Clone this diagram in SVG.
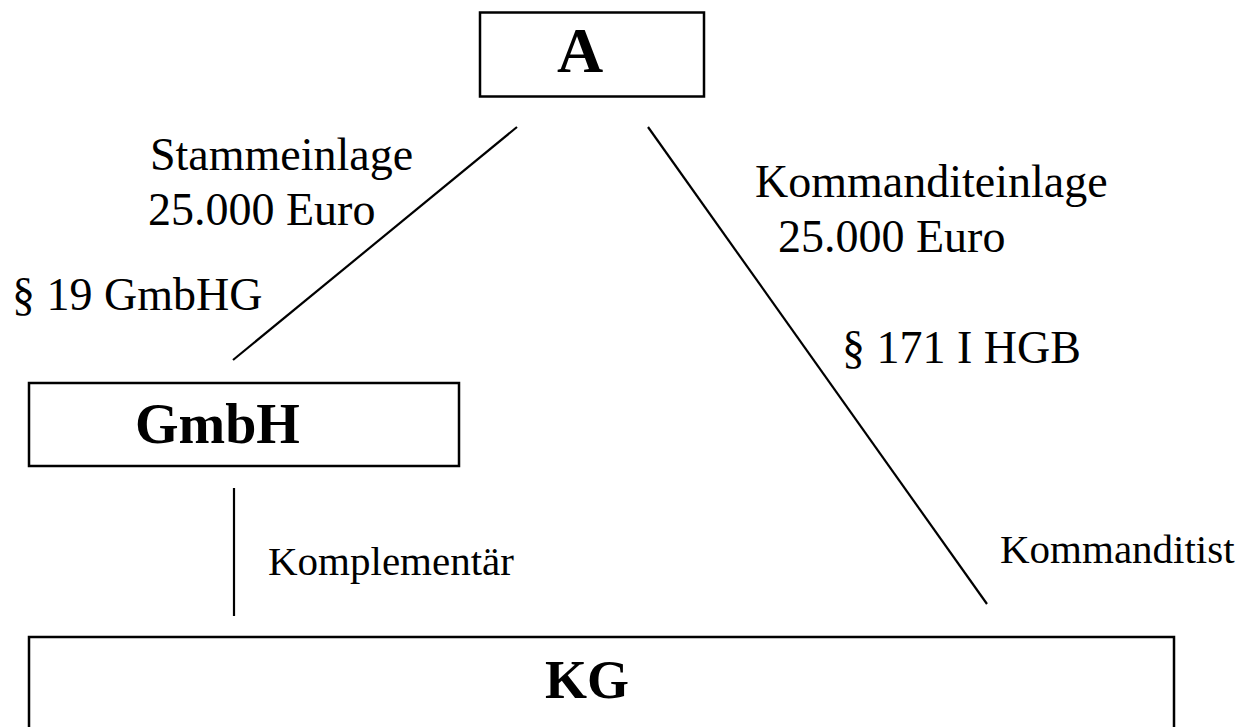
<svg xmlns="http://www.w3.org/2000/svg" width="1254" height="727" viewBox="0 0 1254 727">
<style>
.box{fill:#fff;stroke:#000;stroke-width:2.5}
.ln{stroke:#000;stroke-width:2.2;fill:none}
.t{font-family:"Liberation Serif","Times New Roman",serif;fill:#000}
.b{font-weight:bold}
.l{font-size:46px}
.s{font-size:41px}
</style>
<rect width="1254" height="727" fill="#fff"/>
<g id="node-A">
<rect class="box" x="480" y="12.5" width="224" height="84"/>
<text class="t b" x="557" y="72" font-size="64">A</text>
</g>
<g id="node-GmbH">
<rect class="box" x="29" y="383" width="430" height="83"/>
<text class="t b" x="135" y="443" font-size="56">GmbH</text>
</g>
<g id="node-KG">
<rect class="box" x="29" y="637" width="1145" height="110"/>
<text class="t b" x="545" y="698" font-size="54">KG</text>
</g>
<g id="connectors">
<line class="ln" x1="517" y1="127" x2="233" y2="360"/>
<line class="ln" x1="648" y1="127" x2="987" y2="604"/>
<line class="ln" x1="234" y1="488" x2="234" y2="616"/>
</g>
<g id="labels">
<text class="t l" x="150" y="170">Stammeinlage</text>
<text class="t l" x="148" y="225">25.000 Euro</text>
<text class="t l" x="12" y="310">§ 19 GmbHG</text>
<text class="t l" x="755" y="197">Kommanditeinlage</text>
<text class="t l" x="778" y="252">25.000 Euro</text>
<text class="t l" x="842" y="363">§ 171 I HGB</text>
<text class="t s" x="268" y="575">Komplementär</text>
<text class="t s" x="1000" y="563">Kommanditist</text>
</g>
</svg>
